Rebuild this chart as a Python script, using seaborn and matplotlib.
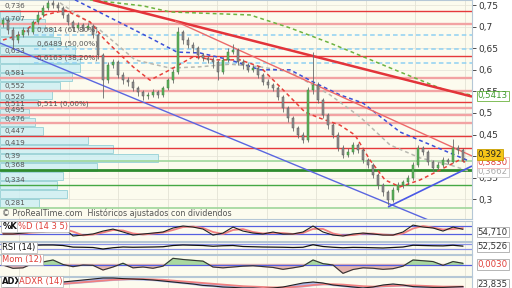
import numpy as np
import pandas as pd
import matplotlib
matplotlib.use("Agg")
import matplotlib.pyplot as plt
import seaborn as sns

# ---------------- data ----------------
first_open = 0.705
closes = [0.715,0.692,0.669,0.681,0.692,0.688,0.711,0.727,0.743,0.755,
          0.750,0.743,0.727,0.711,0.697,0.704,0.697,0.702,0.681,0.634,
          0.576,0.611,0.618,0.588,0.576,0.572,0.558,0.549,0.539,0.541,
          0.549,0.541,0.558,0.576,0.595,0.688,0.669,0.657,0.650,0.634,
          0.627,0.623,0.618,0.595,0.623,0.641,0.646,0.618,0.611,0.600,
          0.604,0.588,0.572,0.565,0.558,0.537,0.511,0.488,0.465,0.449,
          0.4375,0.553,0.565,0.530,0.495,0.472,0.449,0.419,0.403,0.410,
          0.426,0.414,0.391,0.380,0.356,0.333,0.317,0.299,0.322,0.333,
          0.340,0.350,0.380,0.419,0.410,0.387,0.373,0.380,0.391,0.387,
          0.419,0.414,0.392]
highs = [0.722,0.720,0.698,0.690,0.700,0.699,0.716,0.735,0.750,0.762,
         0.762,0.756,0.748,0.732,0.716,0.710,0.709,0.708,0.706,0.686,
         0.640,0.618,0.626,0.622,0.594,0.583,0.578,0.563,0.553,0.548,
         0.555,0.553,0.563,0.582,0.601,0.700,0.693,0.676,0.664,0.655,
         0.640,0.633,0.630,0.622,0.630,0.650,0.660,0.650,0.624,0.616,
         0.612,0.609,0.593,0.578,0.570,0.562,0.541,0.516,0.492,0.470,
         0.455,0.560,0.641,0.572,0.535,0.500,0.478,0.455,0.425,0.418,
         0.433,0.430,0.418,0.396,0.384,0.360,0.338,0.321,0.328,0.340,
         0.346,0.356,0.386,0.426,0.424,0.414,0.392,0.386,0.398,0.396,
         0.440,0.426,0.418]
lows = [0.698,0.684,0.648,0.662,0.676,0.680,0.684,0.706,0.722,0.738,
        0.742,0.735,0.720,0.703,0.690,0.691,0.690,0.692,0.673,0.625,
        0.535,0.570,0.604,0.580,0.568,0.563,0.550,0.540,0.531,0.533,
        0.536,0.534,0.537,0.553,0.570,0.590,0.660,0.650,0.641,0.626,
        0.620,0.615,0.605,0.577,0.590,0.618,0.636,0.612,0.603,0.594,
        0.596,0.580,0.565,0.558,0.550,0.530,0.503,0.480,0.458,0.441,
        0.430,0.433,0.545,0.522,0.488,0.464,0.441,0.412,0.396,0.398,
        0.405,0.407,0.384,0.372,0.349,0.325,0.309,0.288,0.294,0.317,
        0.327,0.334,0.345,0.376,0.402,0.380,0.366,0.368,0.376,0.381,
        0.384,0.405,0.386]

# support / resistance levels
level_prices = [0.736,0.707,0.633,0.581,0.552,0.526,0.511,0.495,0.476,0.447,0.419,0.39,0.368,0.334,0.281]
level_labels = ["0,736","0,707","0,633","0,581","0,552","0,526","0,511","0,495","0,476","0,447","0,419","0,39","0,368","0,334","0,281"]
level_kinds = ["red","pink","red","pink","pink","red","pink","pink","pink","red","red","lgreen","dgreen","green","lgreen"]

fib_prices = [0.6814, 0.6489, 0.6163, 0.511]
fib_labels = ["0,6814 (61,80%)", "0,6489 (50,00%)", "0,6163 (38,20%)", "0,511 (0,00%)"]

# volume-by-price profile (bottom bin first)
vp_start = 0.282
vp_step = 0.0208
vp_volume = [39,67,57,63,97,158,113,88,43,35,29,38,52,60,72,80,80,75,60,53,45,20]

# dashed moving-average style lines (candle index, price)
red_ma_x = [0,3.4,8.4,12.4,17.4,20.4,26,29.4,33.4,38,42.4,47.4,51.4,56.4,60.4,63.4,67.4,70.4,73.4,76.4,79.4,83.4,87.4,91.4,93]
red_ma_y = [0.669,0.681,0.727,0.738,0.711,0.669,0.607,0.576,0.600,0.630,0.623,0.623,0.607,0.549,0.502,0.488,0.472,0.449,0.391,0.345,0.329,0.345,0.368,0.392,0.383]
gray_ma_x = [11.4,19.4,26.4,33.4,39.4,45.4,51.4,57.4,65.4,71.4,77.4,83.4,89.4,93]
gray_ma_y = [0.755,0.692,0.623,0.604,0.607,0.613,0.607,0.595,0.542,0.491,0.426,0.396,0.380,0.366]
blue_ma_x = [14.4,29.4,34.8,39.4,45.4,51.4,57.4,62,67.4,72,79.4,92.8]
blue_ma_y = [0.762,0.674,0.641,0.639,0.623,0.600,0.600,0.572,0.542,0.523,0.456,0.391]
green_ma_x = [17.4,28,33.4,49.4,57.4,65.4,79.4,88.4,93.8]
green_ma_y = [0.762,0.748,0.734,0.727,0.697,0.662,0.595,0.553,0.5413]

# trend lines: (x0, y0, x1, y1)
trend_thick_red = (18, 0.7616, 93.8, 0.538)
trend_thin_red = (34.4, 0.713, 93.8, 0.4004)
trend_blue_down = (-0.6, 0.662, 93.8, 0.2106)
trend_blue_up = (77, 0.2824, 93.8, 0.3773)

# indicators, sampled every second candle
ind_x = list(range(0, 93, 2))
stoch_k = [20,20,27,35,35,50,72,5,12,20,42,57,35,12,20,27,35,65,80,72,57,12,27,72,42,27,20,35,20,20,35,80,35,12,5,20,27,20,12,12,35,87,72,65,42,72,55]
stoch_d = [22,20,24,31,35,43,60,38,10,16,31,50,46,24,16,23,31,50,72,76,65,35,20,50,57,35,24,28,27,20,28,58,58,24,9,12,23,23,16,12,24,61,80,68,54,57,64]
rsi = [50,52,55,60,62,62,58,45,44,42,30,40,46,44,45,46,48,58,62,60,58,52,56,58,50,48,46,45,44,42,44,64,50,44,40,43,42,40,38,42,46,60,58,56,55,60,53]
mom = [-0.006,-0.046,-0.04,0.014,0.03,0.054,0.0,-0.026,-0.006,-0.01,
       -0.066,-0.03,0.015,-0.04,-0.03,-0.045,-0.02,0.074,0.06,0.05,
       0.04,-0.03,-0.04,-0.03,-0.02,-0.015,-0.025,-0.035,-0.058,-0.04,
       -0.02,0.054,0.01,-0.006,-0.106,-0.06,-0.04,-0.045,-0.058,-0.05,
       -0.02,0.054,0.045,0.035,-0.01,0.035,0.014]
adx = [17.5,20,22.5,25,27.5,30,32.5,35,37.5,40,42.5,42.5,41,40,39,37.5,35,32.5,30,27.5,24,22.5,20,19,17.5,17.5,16,17.5,20,25,30,32.5,30,25,22.5,20,17.5,20,25,27.5,25,21,20,19,19,20,21]
adxr = [16,17,19,21,23,25,28,30,32,34,36,38,39,40,40,39,38,36,34,32,30,28,26,24,22,21,20,19,19,20,22,25,27,27,26,24,22,21,22,23,24,24,23,22,21,21,21]

price_ticks = [0.3,0.35,0.4,0.45,0.5,0.55,0.6,0.65,0.7,0.75]

# ---------------- styling ----------------
sns.set_style("white")
plt.rcParams["font.family"] = ["DejaVu Sans"]
BG = "#fcfbee"
GRID = "#e4e2d6"
EDGE = "#b5c7d6"

fig = plt.figure(figsize=(5.12, 2.88), dpi=100, facecolor="white")
W, H = 512.0, 288.0
AXW = 472.0 / W

def panel(top_px, bot_px):
    return fig.add_axes([0, 1 - bot_px / H, AXW, (bot_px - top_px) / H])

ax = panel(0, 219)
ax_st = panel(221, 241)
ax_rsi = panel(242, 254)
ax_mom = panel(255, 276)
ax_adx = fig.add_axes([0, -0.05, AXW, (288 - 277) / H + 0.05])

XLIM = (-0.6, 93.8)
for a in (ax, ax_st, ax_rsi, ax_mom, ax_adx):
    a.set_facecolor(BG)
    a.set_xlim(*XLIM)
    a.set_xticks([])
    for s in a.spines.values():
        s.set_color(EDGE)
        s.set_linewidth(0.8)
    a.spines["left"].set_visible(False)
    for gx in np.arange(3.2, 94, 9.9):
        a.axvline(gx, color=GRID, lw=0.6, zorder=0)

# ---------------- main price panel ----------------
ax.set_ylim(0.2546, 0.7616)
for p in price_ticks:
    ax.axhline(p, color=GRID, lw=0.5, zorder=0)

# volume profile
xspan = XLIM[1] - XLIM[0]
vp_centers = vp_start + vp_step * (np.arange(len(vp_volume)) + 0.5)
ax.barh(vp_centers, np.array(vp_volume) * xspan / 472.0, left=XLIM[0],
        height=vp_step * 0.92, color="#cdeff3", edgecolor="#86c9d0",
        linewidth=0.6, alpha=0.85, zorder=1)

level_style = {"red": ("#e5393b", 1.0), "pink": ("#f2a3a3", 1.7),
               "lgreen": ("#9fd69a", 1.2), "dgreen": ("#2e8b2e", 2.0),
               "green": ("#45a845", 1.0)}
for p, lab, k in zip(level_prices, level_labels, level_kinds):
    c, lw = level_style[k]
    ax.axhline(p, color=c, lw=lw, zorder=2)
    ax.text(0.3, p + 0.004, lab, fontsize=5.2, color="#555555", va="bottom",
            ha="left", zorder=6)

for p, lab in zip(fib_prices, fib_labels):
    if p > 0.52:
        ax.hlines(p, 6.2, XLIM[1], colors="#8fd0f2", linestyles=(0, (3, 2)), lw=1.1, zorder=2)
    ax.text(6.8, p + 0.004, lab, fontsize=5.2, color="#555555", va="bottom",
            ha="left", zorder=6)

# dashed MA lines via seaborn
dash = (0, (2.5, 2))
for xs, ys, col in ((green_ma_x, green_ma_y, "#6db33f"),
                    (gray_ma_x, gray_ma_y, "#b8b8b0"),
                    (blue_ma_x, blue_ma_y, "#3c4fd8"),
                    (red_ma_x, red_ma_y, "#e8403a")):
    sns.lineplot(x=xs, y=ys, ax=ax, color=col, lw=1.1, linestyle=dash, zorder=3)

for (x0, y0, x1, y1), col, lw in ((trend_thick_red, "#e3343a", 1.8),
                                  (trend_thin_red, "#ec6a6a", 1.0),
                                  (trend_blue_down, "#5a66e0", 1.0),
                                  (trend_blue_up, "#4a58e6", 1.2)):
    ax.plot([x0, x1], [y0, y1], color=col, lw=lw, zorder=3, solid_capstyle="butt")

# candles
opens = [first_open] + closes[:-1]
idx = np.arange(len(closes))
o = np.array(opens); c = np.array(closes)
up = c >= o
ax.vlines(idx, lows, highs, color="#6a6a6a", lw=0.6, zorder=4)
body_bottom = np.minimum(o, c)
body_h = np.maximum(np.abs(c - o), 0.0015)
ax.bar(idx[up], body_h[up], bottom=body_bottom[up], width=0.48,
       color="#5cb35c", edgecolor="#3f7f3f", linewidth=0.35, zorder=5)
ax.bar(idx[~up], body_h[~up], bottom=body_bottom[~up], width=0.48,
       color="#8e8e8e", edgecolor="#555555", linewidth=0.35, zorder=5)

ax.yaxis.tick_right()
ax.set_yticks(price_ticks)
ax.set_yticklabels([("%g" % t).replace(".", ",") for t in price_ticks])
ax.tick_params(axis="y", labelsize=6.5, colors="#333333", length=3, width=0.6, pad=1.5)
ax.set_ylabel("")
ax.text(0.004, 0.025, "\u00a9 ProRealTime.com  Hist\u00f3ricos ajustados con dividendos",
        transform=ax.transAxes, fontsize=5.8, color="#555555", va="center", zorder=7)

def rlabel(a, y, text, fc="white", ec="#aaaaaa", color="#333333", fs=6.2):
    a.annotate(text, xy=(1.0, y), xycoords=("axes fraction", "data"), xytext=(4, 0),
               textcoords="offset points", va="center", ha="left", fontsize=fs,
               color=color, annotation_clip=False, zorder=10,
               bbox=dict(boxstyle="square,pad=0.1", fc=fc, ec=ec, lw=0.6))

rlabel(ax, 0.5395, "0,5413", ec="#6db33f", color="#3d9a2d")
rlabel(ax, 0.3645, "0,3662", ec="#c8c8c8", color="#aaaaaa")
rlabel(ax, 0.385, "0,3830", ec="#f0b0b0", color="#e0403a")
rlabel(ax, 0.4045, "0,392", fc="#f5c518", ec="#c9a000", color="#222222")

# ---------------- indicator panels ----------------
def small_box(a, x, y, text, color, bold=False):
    a.text(x, y, text, transform=a.transAxes, fontsize=6, color=color, va="center",
           ha="left", fontweight="bold" if bold else "normal", zorder=8,
           bbox=dict(boxstyle="square,pad=0.12", fc="white", ec="#b0b0b0", lw=0.5))

# stochastic
ax_st.set_ylim(-32.5, 117.5)
ax_st.set_yticks([])
for lv in (20, 80):
    ax_st.axhline(lv, color="#5560e0", lw=0.9, zorder=1)
sns.lineplot(x=ind_x, y=stoch_d, ax=ax_st, color="#f08080", lw=1.3, zorder=2)
sns.lineplot(x=ind_x, y=stoch_k, ax=ax_st, color="#222222", lw=0.8, zorder=3)
small_box(ax_st, 0.005, 0.72, "%K", "#111111", bold=True)
small_box(ax_st, 0.038, 0.72, "%D (14 3 5)", "#e0403a")
rlabel(ax_st, 35, "54,710")

# RSI
ax_rsi.set_ylim(-10, 86)
ax_rsi.set_yticks([])
for lv in (30, 70):
    ax_rsi.axhline(lv, color="#8a92e8", lw=0.9, zorder=1)
sns.lineplot(x=ind_x, y=rsi, ax=ax_rsi, color="#111111", lw=0.9, zorder=3)
small_box(ax_rsi, 0.005, 0.55, "RSI (14)", "#111111")
rlabel(ax_rsi, 46, "52,526")

# Momentum
ax_mom.set_ylim(-0.138, 0.114)
ax_mom.set_yticks([])
mom_arr = np.array(mom)
ax_mom.fill_between(ind_x, 0, mom_arr, where=mom_arr >= 0, interpolate=True,
                    color="#a9d8a0", zorder=1)
ax_mom.fill_between(ind_x, 0, mom_arr, where=mom_arr < 0, interpolate=True,
                    color="#e3b3ae", zorder=1)
ax_mom.axhline(0, color="#5560e0", lw=0.9, zorder=2)
sns.lineplot(x=ind_x, y=mom, ax=ax_mom, color="#333333", lw=0.8, zorder=3)
small_box(ax_mom, 0.005, 0.78, "Mom (12)", "#e0403a")
rlabel(ax_mom, 0.003, "0,0030", color="#e0403a")

# ADX (panel is cut by the bottom edge of the picture)
ax_adx.set_ylim(-18.5, 45)
ax_adx.set_yticks([])
ax_adx.fill_between(ind_x, adx, adxr, color="#9aa6e8", alpha=0.7, zorder=1)
sns.lineplot(x=ind_x, y=adxr, ax=ax_adx, color="#f08080", lw=1.3, zorder=2)
sns.lineplot(x=ind_x, y=adx, ax=ax_adx, color="#222222", lw=0.8, zorder=3)
ax_adx.text(0.005, 34, "ADX", transform=ax_adx.get_yaxis_transform(), fontsize=6,
            color="#111111", fontweight="bold", va="center", zorder=8,
            bbox=dict(boxstyle="square,pad=0.12", fc="white", ec="#b0b0b0", lw=0.5))
ax_adx.text(0.04, 34, "ADXR (14)", transform=ax_adx.get_yaxis_transform(), fontsize=6,
            color="#e0403a", va="center", zorder=8,
            bbox=dict(boxstyle="square,pad=0.12", fc="white", ec="#b0b0b0", lw=0.5))
rlabel(ax_adx, 26, "23,835")

for a in (ax, ax_st, ax_rsi, ax_mom, ax_adx):
    a.set_xlabel("")
    a.set_ylabel("")

fig.savefig("out.png", dpi=100, facecolor="white")
